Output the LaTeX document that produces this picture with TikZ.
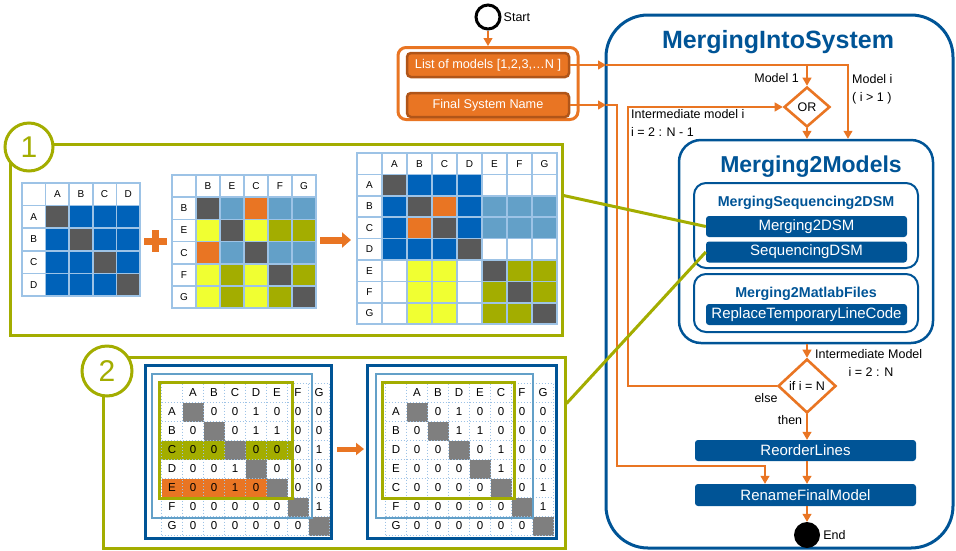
\documentclass[tikz,border=0pt]{standalone}
\usepackage{fontspec}
\setmainfont{Liberation Sans}
\usetikzlibrary{arrows.meta,shapes.geometric}
\definecolor{flowblue}{RGB}{0,84,150}
\definecolor{flowcolor}{RGB}{233,117,35}
\definecolor{inputedge}{RGB}{176,85,25}
\definecolor{dsmolive}{RGB}{163,173,0}
\definecolor{dsmblue}{RGB}{0,98,185}
\definecolor{dsmsky}{RGB}{99,160,200}
\definecolor{gridblue}{RGB}{157,195,230}
\definecolor{dsmyellow}{RGB}{240,255,50}
\definecolor{dsmdark}{RGB}{89,89,89}
\definecolor{dsmmid}{RGB}{127,127,127}
\tikzset{
  smalllabel/.style={font=\fontsize{12.5}{14}\selectfont, inner sep=0pt},
  inputbox/.style={draw=inputedge, line width=2.5pt, fill=flowcolor, rounded corners=4pt, text=white,
    minimum width=162pt, minimum height=24pt, inner sep=0pt, font=\fontsize{12.7}{14}\selectfont},
  taskbox/.style={fill=flowblue, rounded corners=3pt, text=white, minimum height=21pt, inner sep=0pt,
    font=\fontsize{15}{16}\selectfont},
  groupbox/.style={draw=flowblue, line width=2pt, rounded corners=12pt, inner sep=0pt},
  grouptitle/.style={text=flowblue, inner sep=0pt, font=\bfseries\fontsize{14.3}{16}\selectfont},
  decision/.style={diamond, draw=flowcolor, line width=2.6pt, fill=white, inner sep=0pt,
    font=\fontsize{12.5}{14}\selectfont},
  flowline/.style={draw=flowcolor, line width=1.2pt, -{Triangle[length=8pt,width=9pt]}},
  greenlink/.style={draw=dsmolive, line width=3pt},
  stepframe/.style={draw=dsmolive, line width=3pt, inner sep=0pt},
  stepcircle/.style={circle, draw=dsmolive, line width=3pt, fill=white, text=dsmolive, inner sep=0pt,
    font=\fontsize{30}{30}\selectfont},
  dsmcell/.style={draw=gridblue, line width=1.5pt},
  dsmtext/.style={font=\fontsize{10}{12}\selectfont, inner sep=0pt},
  dsmnum/.style={font=\fontsize{11.5}{13}\selectfont, inner sep=0pt},
  dsmdots/.style={draw=gridblue, line width=1pt, dash pattern=on 1pt off 2pt}
}
\begin{document}
\begin{tikzpicture}[x=1pt,y=-1pt]
  \useasboundingbox (0,0) rectangle (956,550);

  % inputs
  \node[circle, draw=black, line width=3pt, minimum size=24pt, inner sep=0pt] (start) at (488,17) {};
  \node[smalllabel, anchor=west] (startlab) at ([xshift=2pt]start.east) {Start};
  \node[draw=flowcolor, line width=3pt, rounded corners=8pt, fill=white, minimum width=180pt,
    minimum height=72pt, inner sep=0pt] (inputs) at (488,83.5) {};
  \node[inputbox] (listmodels) at (488,65) {List of models [1,2,3,…N ]};
  \node[inputbox] (finalname) at (488,105) {Final System Name};
  \draw[flowline] (start) -- (inputs);

  % MergingIntoSystem
  \draw[flowblue, line width=3pt, rounded corners=42pt] (606,15) rectangle (953,548);
  \node[text=flowblue, inner sep=0pt, font=\bfseries\fontsize{25}{28}\selectfont] (systitle) at (778,42) {MergingIntoSystem};
  \node[decision, minimum width=46pt, minimum height=40pt] (ortest) at (807,107) {OR};

  \node[groupbox, line width=2.5pt, rounded corners=22pt, minimum width=254pt, minimum height=203pt] (m2mbox) at (806,241.5) {};
  \node[text=flowblue, inner sep=0pt, font=\bfseries\fontsize{23}{26}\selectfont] (m2mtitle) at (811,167) {Merging2Models};
  \node[groupbox, minimum width=224pt, minimum height=85pt] (msbox) at (806,225.5) {};
  \node[grouptitle] (mstitle) at (806,203) {MergingSequencing2DSM};
  \node[taskbox, minimum width=201pt] (m2dsm) at (806.5,226.5) {Merging2DSM};
  \node[taskbox, minimum width=201pt] (seqdsm) at (806.5,252) {SequencingDSM};
  \node[groupbox, minimum width=224pt, minimum height=58pt] (mmfbox) at (806,303) {};
  \node[grouptitle] (mmftitle) at (806,294) {Merging2MatlabFiles};
  \node[taskbox, minimum width=201pt] (replacecode) at (806.5,314.5) {ReplaceTemporaryLineCode};

  \node[decision, minimum width=58pt, minimum height=54pt] (ifn) at (807,386) {if i = N};
  \node[taskbox, minimum width=221pt] (reorder) at (805.5,450.5) {ReorderLines};
  \node[taskbox, minimum width=221pt, minimum height=22pt] (rename) at (805.5,495) {RenameFinalModel};
  \node[circle, fill=black, minimum size=26pt, inner sep=0pt] (finish) at (807,535) {};
  \node[smalllabel, anchor=west] (endlab) at ([xshift=3pt]finish.east) {End};

  % connectors
  \coordinate (listin) at (606,65);
  \coordinate (namein) at (606,105);
  \draw[flowline] (listmodels) -- (listin);
  \draw[flowline] (listin) -| ([xshift=42pt]m2mbox.north);
  \draw[flowline] (ortest.north |- listin) -- (ortest.north);
  \draw[flowline] (ortest.south) -- (ortest.south |- m2mbox.north);
  \draw[flowline] (finalname) -- (namein);
  \draw[flowline] (namein) -| (617,466) -| ([xshift=-40.5pt]rename.north);
  \draw[flowline] (ifn.west) -| (628,107) -- (ortest.west);
  \draw[flowline] (m2mbox.south -| ifn.north) -- (ifn.north);
  \draw[flowline] (ifn.south) -- (ifn.south |- reorder.north);
  \draw[flowline] (ifn.south |- reorder.south) -- (ifn.south |- rename.north);
  \draw[flowline] (ifn.south |- rename.south) -- (finish);

  \node[smalllabel, anchor=east] (lmodelone) at (799,78) {Model 1};
  \node[smalllabel, anchor=west] (lmodeli) at (852,79) {Model i};
  \node[smalllabel, anchor=west] (lmodelcond) at (852,98) {( i > 1 )};
  \node[smalllabel, anchor=west] (linter) at (631,114) {Intermediate model i};
  \node[smalllabel, anchor=west] (lintrange) at (631,132) {i = 2 : N - 1};
  \node[smalllabel, anchor=west] (lintermodel) at (815,354) {Intermediate Model};
  \node[smalllabel] (lintermrange) at (871,372) {i = 2 : N};
  \node[smalllabel] (lelse) at (766,398) {else};
  \node[smalllabel] (lthen) at (790,420) {then};

  % step 1
  \node[stepframe, minimum width=552pt, minimum height=191pt] (boxone) at (286,239.5) {};
  \node[stepcircle, minimum size=48pt] (stepone) at (29,147) {1};
  \foreach \row [count=\r from 0] in {
      {white,white,white,white,white},
      {white,dsmdark,dsmblue,dsmblue,dsmblue},
      {white,dsmblue,dsmdark,dsmblue,dsmblue},
      {white,dsmblue,dsmblue,dsmdark,dsmblue},
      {white,dsmblue,dsmblue,dsmblue,dsmdark}}
    \foreach \col [count=\c from 0] in \row
      \filldraw[dsmcell, fill=\col] (22+23.6*\c,183+22.6*\r) rectangle ++(23.6,22.6);
  \foreach \lab [count=\i] in {A,B,C,D} {
    \node[dsmtext] (oa\i) at (22+23.6*\i+11.8,183+11.3) {\lab};
    \node[dsmtext] (ob\i) at (22+11.8,183+22.6*\i+11.3) {\lab};
  }
  \draw[flowcolor, line width=7pt] (144,241) -- (167,241) (155.5,230) -- (155.5,252);
  \foreach \row [count=\r from 0] in {
      {white,white,white,white,white,white},
      {white,dsmdark,dsmsky,flowcolor,dsmsky,dsmsky},
      {white,dsmyellow,dsmdark,dsmyellow,dsmolive,dsmolive},
      {white,flowcolor,dsmsky,dsmdark,dsmsky,dsmsky},
      {white,dsmyellow,dsmolive,dsmyellow,dsmdark,dsmolive},
      {white,dsmyellow,dsmolive,dsmyellow,dsmolive,dsmdark}}
    \foreach \col [count=\c from 0] in \row
      \filldraw[dsmcell, fill=\col] (172+24*\c,175+22.2*\r) rectangle ++(24,22.2);
  \foreach \lab [count=\i] in {B,E,C,F,G} {
    \node[dsmtext] (ta\i) at (172+24*\i+12,175+11.1) {\lab};
    \node[dsmtext] (tb\i) at (172+12,175+22.2*\i+11.1) {\lab};
  }
  \draw[flowcolor, line width=7pt, -{Triangle[length=9pt,width=15pt]}] (320,240) -- (351,240);
  \foreach \row [count=\r from 0] in {
      {white,white,white,white,white,white,white,white},
      {white,dsmdark,dsmblue,dsmblue,dsmblue,white,white,white},
      {white,dsmblue,dsmdark,flowcolor,dsmblue,dsmsky,dsmsky,dsmsky},
      {white,dsmblue,flowcolor,dsmdark,dsmblue,dsmsky,dsmsky,dsmsky},
      {white,dsmblue,dsmblue,dsmblue,dsmdark,white,white,white},
      {white,white,dsmyellow,dsmyellow,white,dsmdark,dsmolive,dsmolive},
      {white,white,dsmyellow,dsmyellow,white,dsmolive,dsmdark,dsmolive},
      {white,white,dsmyellow,dsmyellow,white,dsmolive,dsmolive,dsmdark}}
    \foreach \col [count=\c from 0] in \row
      \filldraw[dsmcell, fill=\col] (357+25*\c,153+21.4*\r) rectangle ++(25,21.4);
  \foreach \lab [count=\i] in {A,B,C,D,E,F,G} {
    \node[dsmtext] (ma\i) at (357+25*\i+12.5,153+10.7) {\lab};
    \node[dsmtext] (mb\i) at (357+12.5,153+21.4*\i+10.7) {\lab};
  }

  % step 2
  \node[stepframe, minimum width=462pt, minimum height=191pt] (boxtwo) at (334,452.5) {};
  \node[stepcircle, minimum size=50pt] (steptwo) at (107,371) {2};
  % before sequencing
  \fill[dsmolive] (159,440.5) rectangle (291,459.5);
  \fill[flowcolor] (162,478.5) rectangle (267.5,497.5);
  \foreach \k in {1,...,7}
    \fill[dsmmid] (161.5+21*\k,383.5+19*\k) rectangle ++(21,19);
  \foreach \k in {0,...,8} {
    \draw[dsmdots] (161.5+21*\k,383.5) -- ++(0,152);
    \draw[dsmdots] (161.5,383.5+19*\k) -- ++(168,0);
  }
  \foreach \lab [count=\i] in {A,B,C,D,E,F,G} {
    \node[dsmnum] (lh\i) at (161.5+21*\i+10.5,393) {\lab};
    \node[dsmnum] (lv\i) at (172,383.5+19*\i+9.5) {\lab};
  }
  \foreach \row [count=\r] in {{x,0,0,1,0,0,0},{0,x,0,1,1,0,0},{0,0,x,0,0,0,1},
      {0,0,1,x,0,0,0},{0,0,1,0,x,0,0},{0,0,0,0,0,x,1},{0,0,0,0,0,0,x}}
    \foreach \v [count=\c] in \row {
      \ifnum\r=\c\relax\else\node[dsmnum] (lx\r\c) at (161.5+21*\c+10.5,383.5+19*\r+9.5) {\v};\fi
    }
  \draw[flowblue, line width=3pt] (145,365) rectangle (331,538);
  \draw[dsmsky, line width=2.5pt] (152,374) rectangle (312,518);
  \draw[dsmolive, line width=3pt] (159,382) rectangle (292,498);
  \draw[flowcolor, line width=5pt, -{Triangle[length=8pt,width=12pt]}] (337,449) -- (364,449);
  % after sequencing
  \foreach \k in {1,...,7}
    \fill[dsmmid] (385.5+21*\k,383.5+19*\k) rectangle ++(21,19);
  \foreach \k in {0,...,8} {
    \draw[dsmdots] (385.5+21*\k,383.5) -- ++(0,152);
    \draw[dsmdots] (385.5,383.5+19*\k) -- ++(168,0);
  }
  \foreach \lab [count=\i] in {A,B,D,E,C,F,G} {
    \node[dsmnum] (rh\i) at (385.5+21*\i+10.5,393) {\lab};
    \node[dsmnum] (rv\i) at (396,383.5+19*\i+9.5) {\lab};
  }
  \foreach \row [count=\r] in {{x,0,1,0,0,0,0},{0,x,1,1,0,0,0},{0,0,x,0,1,0,0},
      {0,0,0,x,1,0,0},{0,0,0,0,x,0,1},{0,0,0,0,0,x,1},{0,0,0,0,0,0,x}}
    \foreach \v [count=\c] in \row {
      \ifnum\r=\c\relax\else\node[dsmnum] (rx\r\c) at (385.5+21*\c+10.5,383.5+19*\r+9.5) {\v};\fi
    }
  \draw[flowblue, line width=3pt] (367,365) rectangle (556,538);
  \draw[dsmsky, line width=2.5pt] (376,374) rectangle (533,518);
  \draw[dsmolive, line width=3pt] (382,382) rectangle (514,498);

  % links to the tasks
  \draw[greenlink] ([yshift=-53pt]boxone.north east) -- (m2dsm.west);
  \draw[greenlink] ([yshift=-48pt]boxtwo.north east) -- (seqdsm.west);
\end{tikzpicture}
\end{document}
